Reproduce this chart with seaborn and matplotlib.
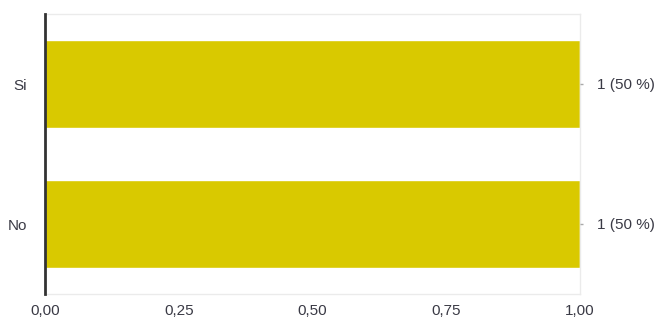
import matplotlib
matplotlib.use("Agg")
import matplotlib.pyplot as plt
import seaborn as sns
import pandas as pd

categories = ["Si", "No"]
counts = [1, 1]
percents = [50, 50]
x_ticks = [0.0, 0.25, 0.5, 0.75, 1.0]
x_tick_labels = ["0,00", "0,25", "0,50", "0,75", "1,00"]

sns.set_style("white")
plt.rcParams["font.family"] = ["Liberation Sans", "DejaVu Sans"]

df = pd.DataFrame({"categoria": categories, "valor": counts})

fig = plt.figure(figsize=(6.6, 3.2), dpi=100)
ax = fig.add_axes([45 / 660, 26 / 320, 535 / 660, 280 / 320])

sns.barplot(data=df, x="valor", y="categoria", orient="h", color="#D9C900",
            saturation=1, width=0.63, ax=ax)

ax.set_xlim(0, 1)
ax.set_ylim(1.5, -0.5)
ax.set_xticks(x_ticks)
ax.set_xticklabels(x_tick_labels)
ax.set_xlabel("")
ax.set_ylabel("")

for side in ["top", "right", "bottom"]:
    ax.spines[side].set_color("#ebebeb")
    ax.spines[side].set_linewidth(1)
ax.spines["left"].set_color("#333333")
ax.spines["left"].set_linewidth(2)
ax.spines["left"].set_zorder(5)

ax.tick_params(axis="x", length=0, pad=7.5, labelsize=11, labelcolor="#3a3a45")
ax.tick_params(axis="y", length=0, pad=13, labelsize=11, labelcolor="#3a3a45")

# value labels on the right side of each bar row
ax2 = ax.twinx()
ax2.set_ylim(ax.get_ylim())
ax2.set_yticks(range(len(categories)))
ax2.set_yticklabels([f"{c} ({p} %)" for c, p in zip(counts, percents)])
ax2.tick_params(axis="y", length=2.5, width=1, color="#aaaaaa", pad=9.5,
                labelsize=11, labelcolor="#3a3a45")
for s in ax2.spines.values():
    s.set_visible(False)

fig.savefig("out.png", dpi=100)
